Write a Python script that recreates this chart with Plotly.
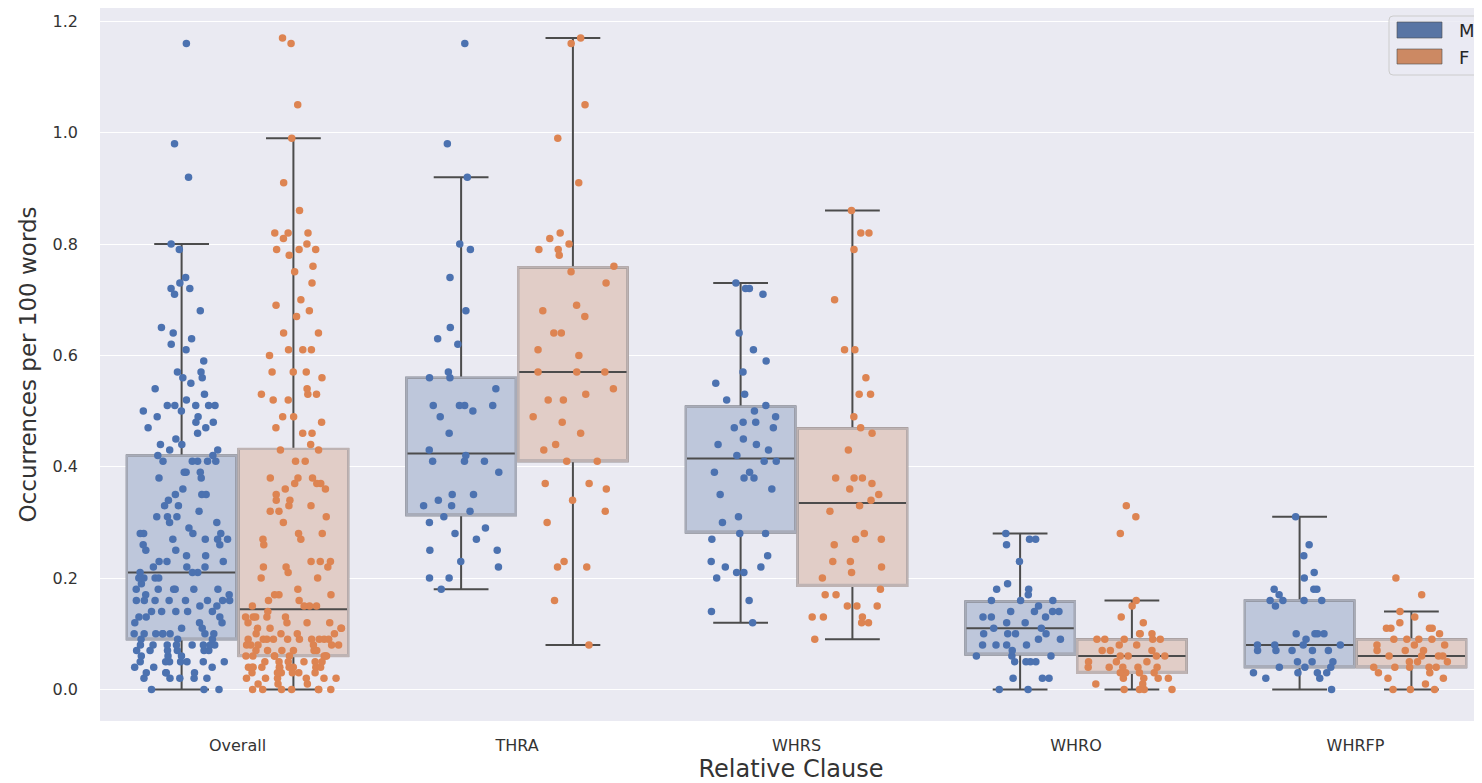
import plotly.graph_objects as go

# ---------------- data ----------------
categories = ["Overall", "THRA", "WHRS", "WHRO", "WHRFP"]

THRA_M = [1.16, 0.98, 0.92, 0.80, 0.79, 0.74, 0.68, 0.65, 0.63, 0.62, 0.57, 0.56, 0.56, 0.54,
          0.51, 0.51, 0.51, 0.51, 0.50, 0.49, 0.46, 0.43, 0.42, 0.41, 0.41, 0.41, 0.39, 0.35,
          0.35, 0.34, 0.33, 0.33, 0.32, 0.31, 0.30, 0.29, 0.28, 0.27, 0.25, 0.25, 0.23, 0.22,
          0.20, 0.20, 0.18]
THRA_F = [1.17, 1.16, 1.05, 0.99, 0.91, 0.82, 0.81, 0.80, 0.79, 0.79, 0.78, 0.76, 0.75, 0.73,
          0.69, 0.68, 0.67, 0.64, 0.64, 0.61, 0.60, 0.57, 0.57, 0.57, 0.54, 0.53, 0.52, 0.52,
          0.49, 0.48, 0.46, 0.44, 0.43, 0.41, 0.41, 0.37, 0.37, 0.36, 0.34, 0.32, 0.30, 0.23,
          0.22, 0.22, 0.16, 0.08]
WHRS_M = [0.73, 0.72, 0.72, 0.71, 0.64, 0.61, 0.59, 0.57, 0.55, 0.53, 0.52, 0.51, 0.50, 0.49,
          0.48, 0.48, 0.47, 0.47, 0.45, 0.44, 0.44, 0.43, 0.42, 0.41, 0.41, 0.39, 0.39, 0.38,
          0.38, 0.36, 0.35, 0.31, 0.30, 0.28, 0.28, 0.27, 0.24, 0.23, 0.22, 0.22, 0.21, 0.21,
          0.20, 0.16, 0.14, 0.12]
WHRS_F = [0.86, 0.82, 0.82, 0.79, 0.70, 0.61, 0.61, 0.56, 0.53, 0.53, 0.49, 0.47, 0.46, 0.43,
          0.38, 0.38, 0.38, 0.37, 0.36, 0.35, 0.34, 0.33, 0.32, 0.28, 0.27, 0.27, 0.26, 0.23,
          0.23, 0.22, 0.21, 0.20, 0.18, 0.17, 0.17, 0.15, 0.15, 0.15, 0.13, 0.13, 0.13, 0.12,
          0.12, 0.09]
WHRO_M = [0.28, 0.27, 0.27, 0.26, 0.23, 0.19, 0.18, 0.18, 0.17, 0.16, 0.16, 0.16, 0.15, 0.14,
          0.14, 0.14, 0.14, 0.13, 0.13, 0.13, 0.12, 0.12, 0.11, 0.11, 0.10, 0.10, 0.10, 0.10,
          0.09, 0.09, 0.08, 0.08, 0.08, 0.08, 0.07, 0.06, 0.06, 0.06, 0.05, 0.05, 0.05, 0.05,
          0.02, 0.02, 0.02, 0.00, 0.00]
WHRO_F = [0.33, 0.31, 0.28, 0.16, 0.15, 0.13, 0.12, 0.10, 0.10, 0.10, 0.09, 0.09, 0.09, 0.09,
          0.09, 0.08, 0.08, 0.07, 0.07, 0.07, 0.06, 0.06, 0.06, 0.06, 0.05, 0.05, 0.05, 0.04,
          0.04, 0.04, 0.04, 0.04, 0.03, 0.03, 0.03, 0.03, 0.02, 0.02, 0.02, 0.02, 0.01, 0.01,
          0.00, 0.00, 0.00, 0.00]
WHRFP_M = [0.31, 0.26, 0.24, 0.21, 0.20, 0.18, 0.18, 0.18, 0.17, 0.16, 0.16, 0.16, 0.16, 0.15,
           0.10, 0.10, 0.10, 0.10, 0.09, 0.08, 0.08, 0.08, 0.08, 0.07, 0.07, 0.07, 0.07, 0.07,
           0.05, 0.05, 0.05, 0.04, 0.04, 0.04, 0.03, 0.03, 0.03, 0.03, 0.02, 0.02, 0.00]
WHRFP_F = [0.20, 0.17, 0.14, 0.13, 0.12, 0.11, 0.11, 0.11, 0.11, 0.10, 0.09, 0.09, 0.09, 0.09,
           0.08, 0.08, 0.08, 0.07, 0.07, 0.07, 0.06, 0.06, 0.06, 0.06, 0.05, 0.05, 0.05, 0.04,
           0.04, 0.04, 0.04, 0.04, 0.03, 0.03, 0.02, 0.02, 0.01, 0.00, 0.00, 0.00]

# box statistics (Overall, THRA, WHRS, WHRO, WHRFP)
q1_M = [0.090, 0.313, 0.282, 0.063, 0.040]
med_M = [0.210, 0.424, 0.415, 0.110, 0.080]
q3_M = [0.420, 0.560, 0.508, 0.158, 0.160]
lo_M = [0.00, 0.18, 0.12, 0.00, 0.00]
hi_M = [0.80, 0.92, 0.73, 0.28, 0.31]

q1_F = [0.060, 0.410, 0.186, 0.030, 0.040]
med_F = [0.144, 0.570, 0.335, 0.060, 0.060]
q3_F = [0.432, 0.758, 0.469, 0.090, 0.090]
lo_F = [0.00, 0.08, 0.09, 0.00, 0.00]
hi_F = [0.99, 1.17, 0.86, 0.16, 0.14]

series_M = [THRA_M, WHRS_M, WHRO_M, WHRFP_M]
series_F = [THRA_F, WHRS_F, WHRO_F, WHRFP_F]

# ---------------- styles ----------------
PT_M, PT_F = "#4C72B0", "#DD8452"
BOX_M, BOX_F = "rgb(190,199,219)", "rgb(225,205,199)"
EDGE_M, EDGE_F = "rgb(168,172,185)", "rgb(190,179,179)"
PATCH_M, PATCH_F = "#5975A4", "#CC8963"
DARK = "#4C4C4C"
FONT = "DejaVu Sans"
TXT = "#333333"


def flatten(parts):
    overall = [v for p in parts for v in p]
    xs, ys = [], []
    for cat, vals in zip(categories, [overall] + parts):
        xs += [cat] * len(vals)
        ys += vals
    return xs, ys


xm, ym = flatten(series_M)
xf, yf = flatten(series_F)

fig = go.Figure()

for name, q1, med, q3, lo, hi, fill in [("M", q1_M, med_M, q3_M, lo_M, hi_M, BOX_M),
                                         ("F", q1_F, med_F, q3_F, lo_F, hi_F, BOX_F)]:
    fig.add_trace(go.Box(
        x=categories, q1=q1, median=med, q3=q3, lowerfence=lo, upperfence=hi,
        name=name, offsetgroup=name, alignmentgroup="g",
        fillcolor=fill, line=dict(color=DARK, width=2), whiskerwidth=0.5,
        boxpoints=False, showlegend=False, hoverinfo="skip"))

for name, q1, q3, edge in [("M", q1_M, q3_M, EDGE_M), ("F", q1_F, q3_F, EDGE_F)]:
    fig.add_trace(go.Box(
        x=categories, q1=q1, median=q1, q3=q3, lowerfence=q1, upperfence=q3,
        name=name, offsetgroup=name, alignmentgroup="g",
        fillcolor="rgba(0,0,0,0)", line=dict(color=edge, width=2.2), whiskerwidth=0,
        boxpoints=False, showlegend=False, hoverinfo="skip"))

for name, xs, ys, col in [("M", xm, ym, PT_M), ("F", xf, yf, PT_F)]:
    fig.add_trace(go.Box(
        x=xs, y=ys, name=name, offsetgroup=name, alignmentgroup="g",
        boxpoints="all", jitter=0.88, pointpos=0,
        marker=dict(color=col, size=7.5, line=dict(width=0)),
        fillcolor="rgba(0,0,0,0)", line=dict(color="rgba(0,0,0,0)", width=0),
        whiskerwidth=0, showlegend=False))

# ---------------- page geometry (the page body adds an 8 px offset) ----------------
OFF = 8
L, R, T, B = 100, 1482, 8, 721          # plot area in page pixels
W, H = 1482 - OFF, 783 - OFF


def px(x):
    return (x - L) / (R - L)


def py(y):
    return (B - y) / (B - T)


def rounded(x0, y0, x1, y1, r):
    return (f"M {px(x0 + r)} {py(y0)} L {px(x1 - r)} {py(y0)} Q {px(x1)} {py(y0)} {px(x1)} {py(y0 + r)} "
            f"L {px(x1)} {py(y1 - r)} Q {px(x1)} {py(y1)} {px(x1 - r)} {py(y1)} "
            f"L {px(x0 + r)} {py(y1)} Q {px(x0)} {py(y1)} {px(x0)} {py(y1 - r)} "
            f"L {px(x0)} {py(y0 + r)} Q {px(x0)} {py(y0)} {px(x0 + r)} {py(y0)} Z")


shapes = [
    dict(type="path", xref="paper", yref="paper", path=rounded(1389, 16, 1480, 75, 4),
         fillcolor="rgba(234,234,242,0.8)", line=dict(color="#CCCCCC", width=1)),
    dict(type="rect", xref="paper", yref="paper", x0=px(1397), x1=px(1442), y0=py(38), y1=py(22),
         fillcolor=PATCH_M, line=dict(color="rgba(76,76,76,0.6)", width=1)),
    dict(type="rect", xref="paper", yref="paper", x0=px(1397), x1=px(1442), y0=py(64), y1=py(49),
         fillcolor=PATCH_F, line=dict(color="rgba(76,76,76,0.6)", width=1)),
]
annotations = [
    dict(xref="paper", yref="paper", x=px(1457), y=py(30), text="M", showarrow=False,
         xanchor="left", yanchor="middle", font=dict(family=FONT, size=18, color="#262626")),
    dict(xref="paper", yref="paper", x=px(1457), y=py(57), text="F", showarrow=False,
         xanchor="left", yanchor="middle", font=dict(family=FONT, size=18, color="#262626")),
]

fig.update_layout(
    width=W, height=H,
    margin=dict(l=L - OFF, r=0, t=T - OFF, b=H - (B - OFF), autoexpand=False),
    plot_bgcolor="#EAEAF2", paper_bgcolor="white",
    boxmode="group", boxgap=0.2, boxgroupgap=0.02,
    showlegend=False,
    font=dict(family=FONT, color=TXT),
    shapes=shapes, annotations=annotations,
    xaxis=dict(type="category", categoryorder="array", categoryarray=categories,
               range=[-0.492, 4.4526], showgrid=False, zeroline=False, showline=False,
               ticks="", tickfont=dict(size=16, color=TXT), ticklabelstandoff=13,
               title=dict(text="Relative Clause", font=dict(size=24, color=TXT), standoff=5),
               automargin=False),
    yaxis=dict(range=[-0.0566, 1.2239], tickvals=[0, 0.2, 0.4, 0.6, 0.8, 1.0, 1.2],
               tickformat=".1f", showgrid=True, gridcolor="white", gridwidth=1.3,
               zeroline=False, showline=False, ticks="",
               tickfont=dict(size=16, color=TXT), ticklabelstandoff=21,
               title=dict(text="Occurrences per 100 words", font=dict(size=23, color=TXT),
                          standoff=9),
               automargin=False),
)

fig.write_html("out.html")
